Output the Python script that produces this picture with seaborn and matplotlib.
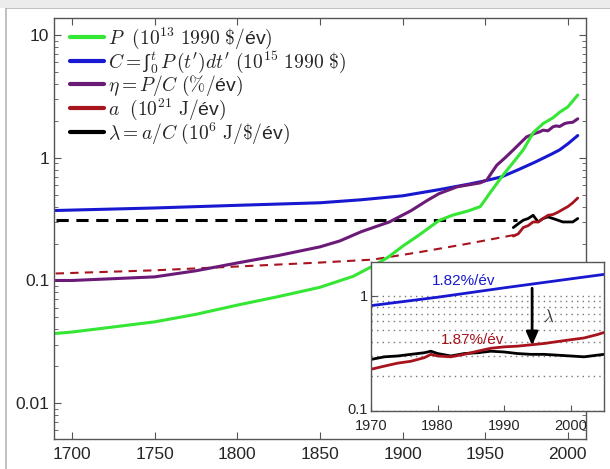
import numpy as np
import pandas as pd
import matplotlib
matplotlib.use("Agg")
import matplotlib.pyplot as plt
import seaborn as sns
from matplotlib.lines import Line2D
from matplotlib.patches import Rectangle
import matplotlib.transforms as mtransforms

# ---------------- data ----------------
p_years = [1690, 1700, 1720, 1750, 1775, 1800, 1825, 1850, 1870, 1880, 1891, 1900, 1910, 1922,
           1930, 1940, 1947, 1953, 1960, 1965, 1973, 1979, 1985, 1991, 1995, 2000, 2006]
p_vals = [0.037, 0.038, 0.041, 0.046, 0.053, 0.063, 0.074, 0.088, 0.108, 0.127, 0.154, 0.19, 0.235, 0.308,
          0.34, 0.37, 0.40, 0.52, 0.70, 0.85, 1.16, 1.6, 1.9, 2.12, 2.35, 2.6, 3.25]

c_years = [1690, 1750, 1800, 1850, 1875, 1900, 1922, 1940, 1950, 1960, 1970, 1980, 1990, 1995, 2000, 2006]
c_vals = [0.372, 0.39, 0.41, 0.43, 0.455, 0.49, 0.55, 0.61, 0.65, 0.70, 0.80, 0.92, 1.07, 1.16, 1.30, 1.52]

eta_years = [1690, 1700, 1750, 1775, 1800, 1825, 1850, 1862, 1875, 1892, 1905, 1915, 1922, 1933, 1947,
             1951, 1954, 1957, 1962, 1967, 1975, 1980, 1983, 1985, 1988, 1991, 1993, 1995, 1998, 2000, 2003, 2006]
eta_vals = [0.100, 0.100, 0.107, 0.12, 0.139, 0.16, 0.188, 0.21, 0.25, 0.30, 0.37, 0.45, 0.51, 0.58, 0.625,
            0.66, 0.76, 0.87, 1.0, 1.16, 1.48, 1.58, 1.63, 1.68, 1.66, 1.79, 1.82, 1.80, 1.90, 1.93, 1.95, 2.08]

lam_dash_years = [1690, 1969]
lam_dash_vals = [0.31, 0.31]
lam_years = [1967, 1970, 1973, 1976, 1979, 1982, 1985, 1988, 1991, 1994, 1997, 2000, 2003, 2006]
lam_vals = [0.27, 0.29, 0.31, 0.32, 0.34, 0.30, 0.32, 0.33, 0.32, 0.31, 0.30, 0.30, 0.30, 0.32]

a_dash_years = [1690, 1750, 1800, 1850, 1882, 1910, 1940, 1969]
a_dash_vals = [0.114, 0.121, 0.13, 0.14, 0.148, 0.17, 0.20, 0.237]
a_years = [1967, 1970, 1973, 1976, 1979, 1982, 1985, 1988, 1991, 1994, 1997, 2000, 2003, 2006]
a_vals = [0.23, 0.24, 0.27, 0.28, 0.30, 0.30, 0.32, 0.34, 0.345, 0.36, 0.38, 0.40, 0.43, 0.47]

# inset
ins_c_years = [1970, 1980, 1990, 2000, 2005]
ins_c_vals = [0.82, 0.97, 1.17, 1.40, 1.53]
ins_years = [1970, 1972, 1974, 1976, 1978, 1979, 1980, 1982, 1984, 1986, 1988, 1990, 1992, 1994,
             1996, 1998, 2000, 2002, 2004, 2005]
ins_a_vals = [0.23, 0.245, 0.26, 0.27, 0.29, 0.31, 0.30, 0.295, 0.31, 0.33, 0.35, 0.36, 0.365, 0.375,
              0.385, 0.40, 0.415, 0.43, 0.46, 0.48]
ins_lam_vals = [0.28, 0.295, 0.30, 0.31, 0.32, 0.33, 0.315, 0.30, 0.315, 0.32, 0.33, 0.325, 0.315, 0.31,
                0.31, 0.305, 0.30, 0.295, 0.305, 0.31]

main_xticks = [1700, 1750, 1800, 1850, 1900, 1950, 2000]
main_yticks = [0.01, 0.1, 1, 10]
main_ytick_labels = ["0.01", "0.1", "1", "10"]
ins_xticks = [1970, 1980, 1990, 2000]
ins_yticks = [0.1, 1]
ins_ytick_labels = ["0.1", "1"]

labels = [r"$P\ \ (10^{13}\ 1990\ \$/$év$)$",
          r"$C = $∫${}_0^{t}\, P\,(t')dt'\ (10^{15}\ 1990\ \$)$",
          r"$\eta = P/C\ (\%/$év$)$",
          r"$a\ \ (10^{21}\ \mathrm{J}/$év$)$",
          r"$\lambda = a/C\ (10^6\ \mathrm{J}/\$/$év$)$"]

GREEN = "#35e635"
BLUE = "#1818d0"
PURPLE = "#6b1a78"
RED = "#a8141e"
BLACK = "#000000"

# ---------------- style ----------------
sns.set_style("ticks")
plt.rcParams["font.family"] = ["Liberation Sans", "DejaVu Sans"]
plt.rcParams["mathtext.fontset"] = "cm"
plt.rcParams["xtick.direction"] = "in"
plt.rcParams["ytick.direction"] = "in"

fig = plt.figure(figsize=(6.1, 4.69), dpi=100)
fig.patch.set_facecolor("white")
ax = fig.add_axes([54 / 610, 1 - 439 / 469, (586 - 54) / 610, (439 - 18) / 469])


def line(axis, xs, ys, color, lw, ls="-", dashes=None):
    df = pd.DataFrame({"x": xs, "y": ys})
    sns.lineplot(data=df, x="x", y="y", ax=axis, color=color, linewidth=lw, linestyle=ls,
                 estimator=None, sort=False)
    if dashes is not None:
        axis.lines[-1].set_dashes(dashes)


line(ax, a_dash_years, a_dash_vals, RED, 1.5, "--", (4, 3))
line(ax, lam_dash_years, lam_dash_vals, BLACK, 2.2, "--", (4, 2.5))
line(ax, c_years, c_vals, BLUE, 2.2)
line(ax, eta_years, eta_vals, PURPLE, 2.2)
line(ax, p_years, p_vals, GREEN, 2.2)
line(ax, lam_years, lam_vals, BLACK, 2.0)
line(ax, a_years, a_vals, RED, 2.0)

ax.set_yscale("log")
ax.set_xlim(1689, 2011)
ax.set_ylim(0.0051, 13.8)
ax.set_xticks(main_xticks)
ax.set_xticklabels([str(t) for t in main_xticks], fontsize=12.5)
ax.set_yticks(main_yticks)
ax.set_yticklabels(main_ytick_labels, fontsize=12.5)
ax.set_xlabel("")
ax.set_ylabel("")
ax.tick_params(which="both", top=True, right=True, direction="in", color="#555555")
ax.tick_params(axis="x", pad=6)
ax.tick_params(which="major", length=5)
ax.tick_params(which="minor", length=3)
for s in ax.spines.values():
    s.set_color("#555555")
    s.set_linewidth(1.0)

handles = [Line2D([0], [0], color=c, lw=3) for c in [GREEN, BLUE, PURPLE, RED, BLACK]]
leg = ax.legend(handles, labels, loc="upper left", frameon=False, fontsize=14,
                handlelength=1.75, handletextpad=0.2, labelspacing=-0.07,
                borderaxespad=0.0, bbox_to_anchor=(0.015, 1.0))

# ---------------- inset ----------------
ins = fig.add_axes([371 / 610, 1 - 411 / 469, (604 - 371) / 610, (411 - 262) / 469])
ins.set_facecolor("white")
ins.set_yscale("log")
ins.set_xlim(1970.3, 2005)
ins.set_ylim(0.1, 1.96)
ins.yaxis.grid(True, which="both", linestyle=(0, (1, 3)), color="#777777", linewidth=1.0)
ins.xaxis.grid(False)
ins.set_axisbelow(True)
line(ins, ins_c_years, ins_c_vals, BLUE, 2.0)
line(ins, ins_years, ins_lam_vals, BLACK, 2.0)
line(ins, ins_years, ins_a_vals, RED, 2.0)
ins.set_xticks(ins_xticks)
ins.set_xticklabels([str(t) for t in ins_xticks], fontsize=10.5)
ins.set_yticks(ins_yticks)
ins.set_yticklabels(ins_ytick_labels, fontsize=10.5)
ins.yaxis.set_minor_formatter(matplotlib.ticker.NullFormatter())
ins.set_xlabel("")
ins.set_ylabel("")
ins.tick_params(which="both", direction="in", color="#555555")
ins.tick_params(axis="y", pad=2)
ins.tick_params(axis="x", pad=6)
ins.tick_params(which="major", length=4)
ins.tick_params(which="minor", length=0)
for s in ins.spines.values():
    s.set_color("#555555")
    s.set_linewidth(1.0)

ins.annotate("", xy=(1994.2, 0.37), xytext=(1994.2, 1.16),
             arrowprops=dict(arrowstyle="-|>,head_width=0.35,head_length=0.8",
                             color="black", lw=2.0, shrinkA=0, shrinkB=0))
ins.text(1996.6, 0.66, r"$\lambda$", fontsize=12, color="#333333", ha="center", va="center")
ins.text(1983.9, 1.33, "1.82%/év", fontsize=11, color=BLUE, ha="center", va="center")
ins.text(1985.3, 0.415, "1.87%/év", fontsize=11, color=RED, ha="center", va="center")

# screenshot-like frame
fig.patches.append(Rectangle((6 / 610, -0.05), 1.2, 1 - 8 / 469 + 0.05, transform=fig.transFigure,
                             fill=False, edgecolor="#b5b5b5", linewidth=1.2, zorder=0))
fig.patches.append(Rectangle((0, 1 - 8 / 469), 1, 8 / 469, transform=fig.transFigure,
                             facecolor="#ececec", edgecolor="none", zorder=0))

# lift the "0.1" label a little so it sits above the inset's year labels
fig.canvas.draw()
for lab in ins.get_yticklabels():
    if lab.get_text() == "0.1":
        lab.set_transform(lab.get_transform() + mtransforms.ScaledTranslation(0, 3 / 100, fig.dpi_scale_trans))

fig.savefig("out.png", dpi=100)
